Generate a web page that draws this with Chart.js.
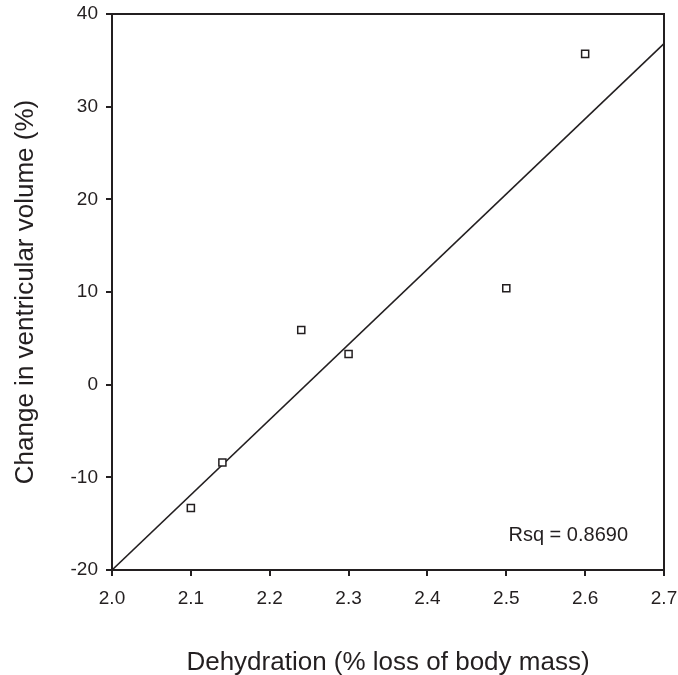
<!DOCTYPE html>
<html>
<head>
<meta charset="utf-8">
<script src="https://cdn.jsdelivr.net/npm/chart.js@4"></script>
<style>
    html, body { margin: 0; padding: 0; background: #fff; }
    #wrap { width: 678px; height: 675px; }
</style>
</head>
<body>
<div id="wrap"><canvas id="chart"></canvas></div>
<script>
// points
const dehydration = [2.10, 2.14, 2.24, 2.30, 2.50, 2.60];
const volumeChange = [-13.3, -8.4, 5.9, 3.3, 10.4, 35.7];

// fitted line, ends at the plot edges
const fitX = [2.0, 2.7];
const fitY = [-20, 36.8];

const rsqLabel = "Rsq = 0.8690";

const ink = "#231f20";
const font = "'Liberation Sans', Arial, sans-serif";

// draws the top/right frame and the Rsq note
const framePlugin = {
    id: "frame",
    afterDraw(chart) {
        const { ctx, chartArea: a } = chart;
        ctx.save();
        ctx.strokeStyle = ink;
        ctx.lineWidth = 2;
        ctx.beginPath();
        ctx.moveTo(a.left, a.top);
        ctx.lineTo(a.right, a.top);
        ctx.lineTo(a.right, a.bottom);
        ctx.stroke();

        ctx.fillStyle = ink;
        ctx.font = "20px " + font;
        ctx.textAlign = "right";
        ctx.textBaseline = "middle";
        ctx.fillText(rsqLabel, a.right - 36, a.bottom - 35);
        ctx.restore();
    }
};

// keep the tick labels from pushing the plot area in
function noEdgePadding(scale) {
    scale.paddingTop = 0;
    scale.paddingBottom = 0;
    scale.paddingLeft = 0;
    scale.paddingRight = 0;
}

new Chart(document.getElementById("chart"), {
    type: "scatter",
    data: {
        datasets: [
            {
                data: dehydration.map((x, i) => ({ x, y: volumeChange[i] })),
                pointStyle: "rect",
                pointRadius: 5,
                pointBorderWidth: 1.5,
                pointBorderColor: ink,
                pointBackgroundColor: "#fff",
                order: 1
            },
            {
                type: "line",
                data: fitX.map((x, i) => ({ x, y: fitY[i] })),
                borderColor: ink,
                borderWidth: 1.6,
                pointRadius: 0,
                fill: false,
                order: 2
            }
        ]
    },
    plugins: [framePlugin],
    options: {
        responsive: true,
        maintainAspectRatio: false,
        animation: false,
        layout: { autoPadding: false, padding: { top: 14, right: 14, bottom: 0, left: 0 } },
        plugins: {
            legend: { display: false },
            tooltip: { enabled: false }
        },
        scales: {
            x: {
                type: "linear",
                min: 2.0,
                max: 2.7,
                ticks: {
                    stepSize: 0.1,
                    color: ink,
                    font: { size: 19, family: font },
                    padding: 11,
                    callback: v => v.toFixed(1)
                },
                grid: { drawOnChartArea: false, color: ink, lineWidth: 2, tickLength: 6 },
                border: { color: ink, width: 2 },
                title: {
                    display: true,
                    text: "Dehydration (% loss of body mass)",
                    color: ink,
                    font: { size: 26, family: font },
                    padding: { top: 0, bottom: -3 }
                },
                afterFit(scale) {
                    scale.height = 105;
                    noEdgePadding(scale);
                }
            },
            y: {
                type: "linear",
                min: -20,
                max: 40,
                ticks: {
                    stepSize: 10,
                    color: ink,
                    font: { size: 19, family: font },
                    padding: 8
                },
                grid: { drawOnChartArea: false, color: ink, lineWidth: 2, tickLength: 6 },
                border: { color: ink, width: 2 },
                title: {
                    display: true,
                    text: "Change in ventricular volume (%)",
                    color: ink,
                    font: { size: 26, family: font },
                    padding: { top: 10, bottom: 0 }
                },
                afterFit(scale) {
                    scale.width = 112;
                    noEdgePadding(scale);
                }
            }
        }
    }
});
</script>
</body>
</html>
